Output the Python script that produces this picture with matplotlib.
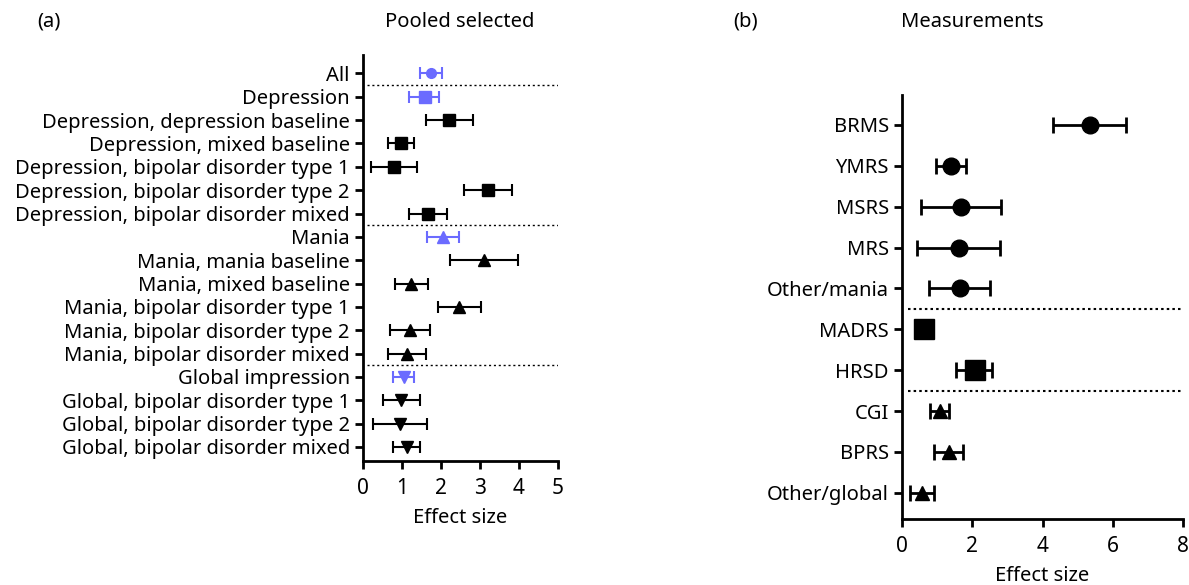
import matplotlib
matplotlib.use("Agg")
import matplotlib.pyplot as plt

plt.rcParams['font.family'] = ['Noto Sans', 'DejaVu Sans']

# panel (a): pooled selected
a_labels = ["All", "Depression", "Depression, depression baseline", "Depression, mixed baseline",
            "Depression, bipolar disorder type 1", "Depression, bipolar disorder type 2",
            "Depression, bipolar disorder mixed", "Mania", "Mania, mania baseline",
            "Mania, mixed baseline", "Mania, bipolar disorder type 1", "Mania, bipolar disorder type 2",
            "Mania, bipolar disorder mixed", "Global impression", "Global, bipolar disorder type 1",
            "Global, bipolar disorder type 2", "Global, bipolar disorder mixed"]
a_est = [1.74, 1.59, 2.20, 0.97, 0.79, 3.20, 1.66, 2.06, 3.11, 1.24, 2.47, 1.20, 1.12,
         1.04, 0.97, 0.95, 1.12]
a_lo = [1.46, 1.19, 1.62, 0.64, 0.20, 2.60, 1.18, 1.65, 2.24, 0.82, 1.92, 0.68, 0.63,
        0.76, 0.50, 0.26, 0.77]
a_hi = [2.02, 1.96, 2.81, 1.32, 1.39, 3.82, 2.15, 2.46, 3.97, 1.67, 3.03, 1.73, 1.61,
        1.32, 1.46, 1.64, 1.46]
a_marker = ["o", "s", "s", "s", "s", "s", "s", "^", "^", "^", "^", "^", "^", "v", "v", "v", "v"]
a_pooled = [True, True, False, False, False, False, False, True, False, False, False, False,
            False, True, False, False, False]
a_breaks = [0.5, 6.5, 12.5]

# panel (b): measurements
b_labels = ["BRMS", "YMRS", "MSRS", "MRS", "Other/mania", "MADRS", "HRSD", "CGI", "BPRS",
            "Other/global"]
b_est = [5.34, 1.40, 1.69, 1.62, 1.64, 0.64, 2.07, 1.07, 1.35, 0.57]
b_lo = [4.29, 0.98, 0.54, 0.44, 0.77, 0.60, 1.55, 0.81, 0.91, 0.24]
b_hi = [6.37, 1.83, 2.83, 2.80, 2.50, 0.68, 2.57, 1.34, 1.74, 0.90]
b_marker = ["o", "o", "o", "o", "o", "s", "s", "^", "^", "^"]
b_breaks = [4.5, 6.5]

BLUE = "#6b6bff"
FS = 14.5
W, H = 1189, 585
fig = plt.figure(figsize=(W / 100, H / 100), dpi=100)


def px_axes(l, r, t, b):
    return fig.add_axes([l / W, 1 - b / H, (r - l) / W, (b - t) / H])


def style(ax):
    for s in ["top", "right"]:
        ax.spines[s].set_visible(False)
    for s in ["left", "bottom"]:
        ax.spines[s].set_linewidth(2)
    ax.tick_params(width=2, length=6, labelsize=FS, colors="black")
    ax.tick_params(axis="x", labelsize=15, pad=6.5)


axa = px_axes(363, 558, 55, 461)
for i in range(len(a_labels)):
    col = BLUE if a_pooled[i] else "black"
    ms = 7 if a_marker[i] == "o" else 8
    axa.errorbar(a_est[i], i, xerr=[[a_est[i] - a_lo[i]], [a_hi[i] - a_est[i]]],
                 fmt=a_marker[i], color=col, ms=ms, elinewidth=1.5, capsize=4.5, capthick=1.5)
for yb in a_breaks:
    axa.axhline(yb, xmin=0.02, xmax=1, color="black", ls=(0, (1.5, 2)), lw=1)
axa.set_yticks(range(len(a_labels)))
axa.set_yticklabels(a_labels)
axa.set_ylim(16.6, -0.79)
axa.set_xlim(0, 5)
axa.set_xticks(range(6))
axa.set_xlabel("Effect size", fontsize=FS, labelpad=6)
style(axa)

axb = px_axes(902, 1183, 95, 519)
for i in range(len(b_labels)):
    ms = {"o": 12, "s": 14, "^": 10}[b_marker[i]]
    axb.errorbar(b_est[i], i, xerr=[[b_est[i] - b_lo[i]], [b_hi[i] - b_est[i]]],
                 fmt=b_marker[i], color="black", ms=ms, elinewidth=2, capsize=6, capthick=2)
for yb in b_breaks:
    axb.axhline(yb, xmin=0.02, xmax=1, color="black", ls=(0, (1.2, 1.5)), lw=1.5)
axb.set_yticks(range(len(b_labels)))
axb.set_yticklabels(b_labels)
axb.set_ylim(9.64, -0.73)
axb.set_xlim(0, 8)
axb.set_xticks([0, 2, 4, 6, 8])
axb.set_xlabel("Effect size", fontsize=FS, labelpad=6)
style(axb)

fig.text(37 / W, 1 - 22 / H, "(a)", fontsize=FS, va="center")
fig.text(460 / W, 1 - 22 / H, "Pooled selected", fontsize=FS, va="center", ha="center")
fig.text(733 / W, 1 - 22 / H, "(b)", fontsize=FS, va="center")
fig.text(972 / W, 1 - 22 / H, "Measurements", fontsize=FS, va="center", ha="center")

fig.savefig("out.png", dpi=100)
